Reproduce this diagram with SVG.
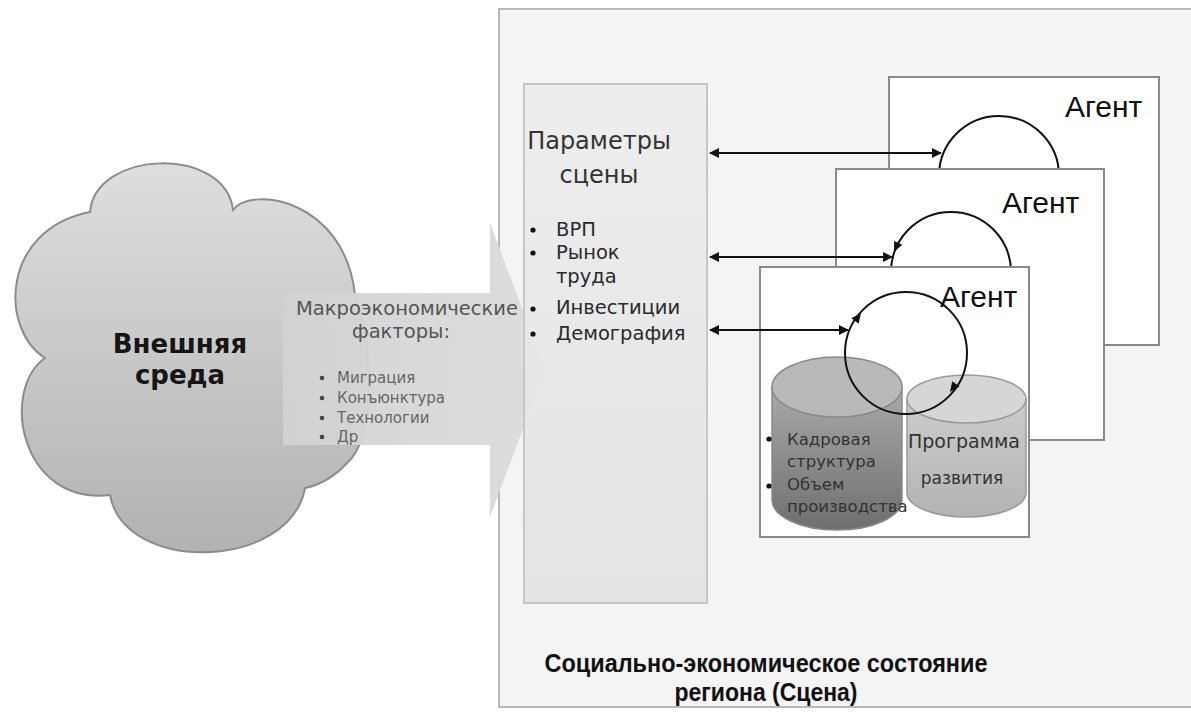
<svg xmlns="http://www.w3.org/2000/svg" width="1191" height="712" viewBox="0 0 1191 712">
<defs>
<style>
.sans{font-family:"DejaVu Sans","Liberation Sans",sans-serif}
.arial{font-family:"Liberation Sans",Arial,sans-serif}
.box{fill:#ffffff;stroke:#8a8a8a;stroke-width:2}
.loop{fill:none;stroke:#111;stroke-width:2}
.conn{stroke:#111;stroke-width:2;fill:none}
.head{fill:#111}
.dot{fill:#111}
</style>
<linearGradient id="cloudG" x1="0" y1="0" x2="0" y2="1">
<stop offset="0" stop-color="#dedede"/>
<stop offset="1" stop-color="#b2b2b2"/>
</linearGradient>
<linearGradient id="arrowG" x1="0" y1="0" x2="1" y2="0">
<stop offset="0" stop-color="#d2d2d2"/>
<stop offset="1" stop-color="#dcdcdc"/>
</linearGradient>
<linearGradient id="paramG" x1="0" y1="0" x2="0" y2="1">
<stop offset="0" stop-color="#ededed"/>
<stop offset="1" stop-color="#e2e2e2"/>
</linearGradient>
<linearGradient id="cylDark" x1="0" y1="0" x2="0" y2="1">
<stop offset="0" stop-color="#a9a9a9"/>
<stop offset="1" stop-color="#6f6f6f"/>
</linearGradient>
<linearGradient id="cylLight" x1="0" y1="0" x2="0" y2="1">
<stop offset="0" stop-color="#cdcdcd"/>
<stop offset="1" stop-color="#b3b3b3"/>
</linearGradient>
<marker id="ah" viewBox="0 0 10 10" refX="9" refY="5" markerWidth="5" markerHeight="5" orient="auto-start-reverse" markerUnits="strokeWidth">
<path d="M0,0 L10,5 L0,10 Z" fill="#111"/>
</marker>
</defs>

<rect width="1191" height="712" fill="#ffffff"/>

<g id="scene">
<rect x="499" y="9" width="700" height="698" fill="#f4f4f4" stroke="#b8b8b8" stroke-width="2"/>
<text class="arial" x="766" y="672" font-size="25" font-weight="bold" text-anchor="middle" textLength="443" lengthAdjust="spacingAndGlyphs" fill="#111">Социально-экономическое состояние</text>
<text class="arial" x="766" y="701" font-size="25" font-weight="bold" text-anchor="middle" textLength="183" lengthAdjust="spacingAndGlyphs" fill="#111">региона (Сцена)</text>
</g>

<g id="cloud">
<path d="M90,212 C95,150 225,145 233,210 C252,185 345,200 355,295 C375,350 375,440 347,463 C335,476 320,485 305,488 C290,570 125,575 110,495 C20,505 0,390 45,358 C0,330 0,230 90,212 Z" fill="url(#cloudG)" stroke="#8c8c8c" stroke-width="2"/>
<text class="sans" x="180" y="353" font-size="26" font-weight="bold" text-anchor="middle" fill="#151515">Внешняя</text>
<text class="sans" x="180" y="384" font-size="26" font-weight="bold" text-anchor="middle" fill="#151515">среда</text>
</g>

<g id="macro">
<polygon points="283,293 490,293 490,223 545,370 490,517 490,445 283,445" fill="url(#arrowG)" opacity="0.95"/>
<text class="sans" x="407" y="315" font-size="19.5" text-anchor="middle" fill="#555">Макроэкономические</text>
<text class="sans" x="401" y="338" font-size="19.5" text-anchor="middle" fill="#555">факторы:</text>
<circle cx="322" cy="378" r="2.3" fill="#444"/>
<circle cx="322" cy="398" r="2.3" fill="#444"/>
<circle cx="322" cy="418" r="2.3" fill="#444"/>
<circle cx="322" cy="437" r="2.3" fill="#444"/>
<text class="sans" font-size="15" fill="#666">
<tspan x="337" y="383">Миграция</tspan>
<tspan x="337" y="403">Конъюнктура</tspan>
<tspan x="337" y="423">Технологии</tspan>
<tspan x="337" y="442">Др</tspan>
</text>
</g>

<g id="params">
<rect x="524" y="84" width="183" height="519" fill="url(#paramG)" fill-opacity="0.9" stroke="#c6c6c6" stroke-width="2"/>
<text class="sans" x="599" y="149" font-size="24" text-anchor="middle" fill="#333">Параметры</text>
<text class="sans" x="599" y="183" font-size="24" text-anchor="middle" fill="#333">сцены</text>
<circle class="dot" cx="533" cy="230" r="2.6"/>
<circle class="dot" cx="533" cy="253" r="2.6"/>
<circle class="dot" cx="533" cy="309" r="2.6"/>
<circle class="dot" cx="533" cy="334" r="2.6"/>
<text class="sans" font-size="19.5" fill="#2a2a2a">
<tspan x="556" y="236">ВРП</tspan>
<tspan x="556" y="259">Рынок</tspan>
<tspan x="556" y="283">труда</tspan>
<tspan x="556" y="314">Инвестиции</tspan>
<tspan x="556" y="340">Демография</tspan>
</text>
</g>

<g id="agent1">
<rect class="box" x="889" y="77" width="270" height="268"/>
<circle class="loop" cx="999" cy="176" r="60"/>
<text class="arial" x="1065" y="117" font-size="30" fill="#111">Агент</text>
</g>

<g id="agent2">
<rect class="box" x="836" y="169" width="268" height="271"/>
<circle class="loop" cx="951" cy="272" r="60"/>
<polygon class="head" points="0,0 -10,-4.5 -10,4.5" transform="translate(894,252) rotate(115)"/>
<text class="arial" x="1002" y="213" font-size="30" fill="#111">Агент</text>
</g>

<g id="agent3">
<rect class="box" x="760" y="267" width="269" height="270"/>
<text class="arial" x="940" y="307" font-size="30" fill="#111">Агент</text>
</g>

<g id="db-staff">
<path d="M772,387 L772,500 A65,30 0 0 0 902,500 L902,387 Z" fill="url(#cylDark)" stroke="#8a8a8a" stroke-width="1.5"/>
<ellipse cx="837" cy="387" rx="65" ry="30" fill="#b9b9b9" stroke="#8a8a8a" stroke-width="1.5"/>
</g>

<g id="db-program">
<path d="M907,399 L907,493 A59.5,24 0 0 0 1026,493 L1026,399 Z" fill="url(#cylLight)" stroke="#9a9a9a" stroke-width="1.5"/>
<ellipse cx="966.5" cy="399" rx="59.5" ry="24" fill="#d6d6d6" stroke="#9a9a9a" stroke-width="1.5"/>
</g>

<g id="loop3">
<circle class="loop" cx="906" cy="353" r="61"/>
<polygon class="head" points="0,0 -10,-4.5 -10,4.5" transform="translate(861,313) rotate(-53)"/>
<polygon class="head" points="0,0 -10,-4.5 -10,4.5" transform="translate(950,392) rotate(126)"/>
</g>

<g id="db-texts">
<circle class="dot" cx="769" cy="439" r="2.6"/>
<circle class="dot" cx="769" cy="486" r="2.6"/>
<text class="sans" font-size="16.5" fill="#333">
<tspan x="787" y="445">Кадровая</tspan>
<tspan x="787" y="467">структура</tspan>
<tspan x="787" y="490">Объем</tspan>
<tspan x="787" y="512">производства</tspan>
</text>
<text class="sans" x="964" y="448" font-size="19" text-anchor="middle" fill="#333">Программа</text>
<text class="sans" x="962" y="484" font-size="17" text-anchor="middle" fill="#333">развития</text>
</g>

<g id="connectors">
<line class="conn" x1="710" y1="153" x2="941" y2="153" marker-start="url(#ah)" marker-end="url(#ah)"/>
<line class="conn" x1="710" y1="257" x2="892" y2="257" marker-start="url(#ah)" marker-end="url(#ah)"/>
<line class="conn" x1="710" y1="330" x2="848" y2="330" marker-start="url(#ah)" marker-end="url(#ah)"/>
</g>
</svg>
